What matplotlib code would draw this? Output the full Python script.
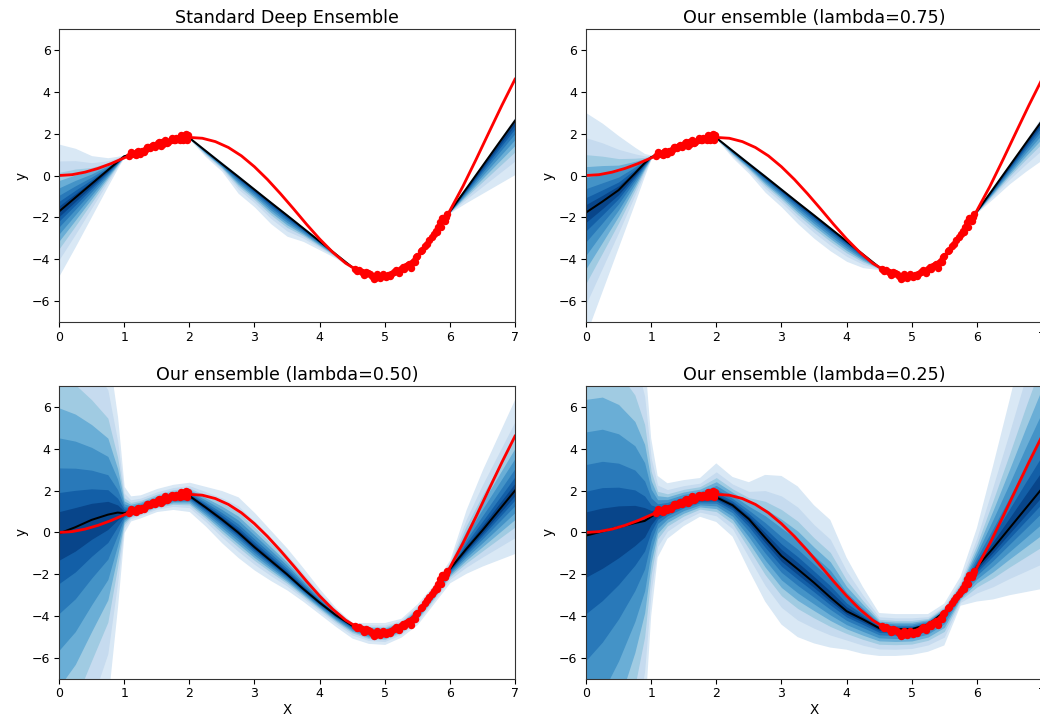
import matplotlib
matplotlib.use("Agg")
import matplotlib.pyplot as plt
import numpy as np

# shared x grid for the ensemble curves
x_grid = [0, 0.25, 0.5, 0.75, 0.9, 1.0, 1.1, 1.25, 1.5, 1.75, 2.0, 2.25, 2.5, 2.75, 3.0,
          3.25, 3.5, 3.75, 4.0, 4.25, 4.5, 4.75, 5.0, 5.25, 5.5, 5.75, 6.0, 6.25, 6.5, 6.75, 7.0]

# ground truth curve (red)
true_x = [0.0, 0.2, 0.4, 0.6, 0.8, 1.0, 1.2, 1.4, 1.6, 1.8, 2.0, 2.2, 2.4, 2.6, 2.8, 3.0, 3.2, 3.4,
          3.6, 3.8, 4.0, 4.2, 4.4, 4.6, 4.8, 5.0, 5.2, 5.4, 5.6, 5.8, 6.0, 6.2, 6.4, 6.6, 6.8, 7.0]
true_y = [0.0, 0.04, 0.16, 0.34, 0.57, 0.84, 1.12, 1.38, 1.60, 1.75, 1.82, 1.78, 1.62, 1.34, 0.94, 0.42,
          -0.19, -0.87, -1.59, -2.33, -3.03, -3.66, -4.19, -4.57, -4.78, -4.79, -4.59, -4.17, -3.54,
          -2.69, -1.68, -0.52, 0.75, 2.06, 3.36, 4.60]

# training points
train_x = [1.08, 1.12, 1.15, 1.20, 1.24, 1.28, 1.33, 1.37, 1.40, 1.44, 1.47, 1.52, 1.55, 1.58, 1.60, 1.63,
           1.68, 1.72, 1.76, 1.80, 1.83, 1.87, 1.90, 1.93, 1.96, 1.98,
           1.10, 1.18, 1.22, 1.30, 1.35, 1.42, 1.50, 1.54, 1.57, 1.62, 1.66, 1.74, 1.78, 1.85, 1.88,
           1.92, 1.95, 1.97,
           4.55, 4.58, 4.65, 4.70, 4.75, 4.80, 4.85, 4.90, 4.95, 5.00, 5.05, 5.10, 5.15, 5.20, 5.25, 5.28,
           5.32, 5.38, 5.42, 5.45, 5.48, 5.55, 5.62, 5.68, 5.72, 5.78, 5.82, 5.85, 5.88, 5.92, 5.95,
           4.60, 4.68, 4.72, 4.78, 4.83, 4.88, 4.93, 4.98, 5.02, 5.08, 5.18, 5.22, 5.30, 5.35, 5.40,
           5.47, 5.50, 5.58, 5.65, 5.75, 5.80, 5.86, 5.90, 5.94]
train_y = [0.95, 1.08, 1.02, 1.10, 1.05, 1.18, 1.25, 1.35, 1.30, 1.45, 1.38, 1.55, 1.48, 1.62, 1.52, 1.65,
           1.60, 1.72, 1.68, 1.80, 1.75, 1.85, 1.72, 1.92, 1.80, 1.95,
           1.12, 0.98, 1.15, 1.12, 1.38, 1.42, 1.45, 1.62, 1.42, 1.72, 1.55, 1.78, 1.70, 1.68, 1.95,
           1.75, 1.98, 1.70,
           -4.45, -4.55, -4.62, -4.72, -4.68, -4.82, -4.88, -4.78, -4.82, -4.80, -4.76, -4.72, -4.62, -4.55, -4.45, -4.38,
           -4.32, -4.25, -4.18, -4.10, -3.90, -3.62, -3.35, -3.10, -2.95, -2.65, -2.45, -2.20, -2.05, -2.15, -1.85,
           -4.50, -4.75, -4.60, -4.72, -4.95, -4.72, -4.88, -4.72, -4.86, -4.80, -4.52, -4.68, -4.48, -4.28, -4.40,
           -4.15, -3.85, -3.55, -3.25, -2.80, -2.70, -2.45, -2.02, -2.00]

titles = ["Standard Deep Ensemble", "Our ensemble (lambda=0.75)",
          "Our ensemble (lambda=0.50)", "Our ensemble (lambda=0.25)"]

# ensemble mean (black) and outermost band edges per panel
mean_1 = [-1.72, -1.06, -0.40, 0.26, 0.66, 0.92, 1.00, 1.15, 1.45, 1.68, 1.80, 1.18, 0.56, -0.05, -0.67,
          -1.29, -1.90, -2.52, -3.14, -3.76, -4.38, -4.72, -4.78, -4.50, -3.88, -2.90, -1.72, -0.64, 0.45, 1.54, 2.62]
upper_1 = [1.5, 1.3, 0.95, 0.85, 0.92, 0.98, 1.05, 1.2, 1.5, 1.72, 1.85, 1.25, 0.65, 0.03, -0.6,
           -1.22, -1.84, -2.46, -3.08, -3.72, -4.34, -4.70, -4.75, -4.47, -3.85, -2.87, -1.68, -0.55, 0.55, 1.68, 2.8]
lower_1 = [-4.8, -3.4, -1.95, -0.5, 0.35, 0.88, 0.96, 1.1, 1.4, 1.64, 1.74, 0.9, 0.2, -0.85, -1.5,
           -2.3, -2.9, -3.15, -3.55, -3.95, -4.45, -4.76, -4.82, -4.54, -3.92, -2.95, -1.78, -1.3, -0.85, -0.4, 0.05]

mean_2 = [-1.77, -1.25, -0.70, 0.10, 0.60, 0.88, 1.00, 1.15, 1.45, 1.68, 1.80, 1.18, 0.56, -0.05, -0.67,
          -1.29, -1.90, -2.52, -3.14, -3.76, -4.38, -4.72, -4.78, -4.50, -3.88, -2.90, -1.72, -0.64, 0.45, 1.54, 2.62]
upper_2 = [3.0, 2.5, 1.9, 1.35, 1.05, 0.98, 1.05, 1.2, 1.5, 1.72, 1.85, 1.25, 0.65, 0.03, -0.6,
           -1.22, -1.84, -2.46, -3.08, -3.72, -4.34, -4.70, -4.75, -4.47, -3.85, -2.87, -1.68, -0.55, 0.55, 1.68, 2.85]
lower_2 = [-7.6, -5.5, -3.4, -1.3, 0.0, 0.8, 0.96, 1.1, 1.4, 1.64, 1.74, 0.85, 0.1, -0.8, -1.5,
           -2.3, -3.0, -3.6, -4.1, -4.4, -4.5, -4.76, -4.82, -4.54, -3.92, -2.95, -1.78, -1.1, -0.4, 0.2, 0.75]

mean_3 = [-0.05, 0.25, 0.60, 0.85, 0.95, 0.92, 1.00, 1.15, 1.45, 1.68, 1.75, 1.20, 0.62, 0.00, -0.70,
          -1.35, -2.00, -2.70, -3.35, -3.95, -4.45, -4.75, -4.80, -4.50, -3.88, -2.90, -1.75, -0.80, 0.10, 1.05, 2.00]
upper_3 = [13, 12, 10.5, 8.8, 5.5, 2.2, 1.75, 1.8, 2.1, 2.3, 2.4, 2.2, 2.0, 1.7, 0.95,
           0.1, -0.75, -1.7, -2.7, -3.6, -4.3, -4.3, -4.3, -4.1, -3.4, -2.5, -1.3, 1.1, 3.0, 4.7, 6.4]
lower_3 = [-16, -14, -11, -8, -3.5, 0.0, 0.55, 0.7, 1.0, 1.1, 1.0, 0.3, -0.5, -1.2, -1.8,
           -2.3, -2.75, -3.3, -3.9, -4.5, -5.05, -5.3, -5.35, -5.0, -4.4, -3.4, -2.4, -1.95, -1.6, -1.3, -1.0]

mean_4 = [-0.15, 0.05, 0.25, 0.45, 0.55, 0.75, 0.95, 1.15, 1.45, 1.62, 1.68, 1.30, 0.64, -0.25, -1.12,
          -1.75, -2.40, -3.10, -3.76, -4.15, -4.57, -4.62, -4.62, -4.40, -3.80, -2.85, -1.65, -0.75, 0.20, 1.15, 2.10]
upper_4 = [14, 14, 13, 11, 8.5, 4.5, 2.7, 2.35, 2.5, 2.6, 3.3, 2.65, 2.4, 2.75, 2.7,
           2.2, 1.3, 0.6, -1.2, -2.6, -3.85, -3.9, -3.9, -3.9, -3.4, -2.1, 0.2, 3.2, 6.3, 9.5, 12.5]
lower_4 = [-25, -22, -18, -13, -9, -4.0, -1.2, -0.3, 0.3, 0.75, 0.5, -0.2, -1.8, -3.3, -4.4,
           -5.0, -5.3, -5.5, -5.6, -5.8, -5.9, -5.9, -5.85, -5.7, -5.4, -3.5, -3.3, -3.2, -3.0, -2.85, -2.7]

means = [mean_1, mean_2, mean_3, mean_4]
uppers = [upper_1, upper_2, upper_3, upper_4]
lowers = [lower_1, lower_2, lower_3, lower_4]

# relative spread of each nested band, outermost first
band_levels = [1.0, 0.75, 0.58, 0.46, 0.35, 0.24, 0.15, 0.08]
band_colors = plt.cm.Blues([0.15, 0.25, 0.37, 0.5, 0.62, 0.72, 0.82, 0.92])

plt.rcParams.update({'font.size': 12.5, 'axes.titlesize': 17.5, 'axes.labelsize': 13.5,
                     'axes.linewidth': 1.1, 'xtick.major.size': 5, 'ytick.major.size': 5,
                     'xtick.major.width': 1.1, 'ytick.major.width': 1.1,
                     'axes.edgecolor': '#333333'})

fig = plt.figure(figsize=(1040 / 72, 723 / 72), dpi=72)
ax_pos = [[59 / 1040, 0.5546, 456 / 1040, 0.4053],
          [586 / 1040, 0.5546, 456 / 1040, 0.4053],
          [59 / 1040, 0.0609, 456 / 1040, 0.4053],
          [586 / 1040, 0.0609, 456 / 1040, 0.4053]]

x = np.array(x_grid)
for i in range(4):
    ax = fig.add_axes(ax_pos[i])
    m = np.array(means[i])
    up = np.array(uppers[i])
    lo = np.array(lowers[i])
    for lev, col in zip(band_levels, band_colors):
        ax.fill_between(x, m + lev * (up - m), m - lev * (m - lo), color=col, lw=0)
    ax.plot(x, m, color='black', lw=2)
    ax.plot(true_x, true_y, color='red', lw=2.8)
    ax.scatter(train_x, train_y, color='red', s=55, lw=0, zorder=5)
    ax.set_xlim(0, 7)
    ax.set_ylim(-7, 7)
    ax.set_title(titles[i], pad=6)
    ax.set_ylabel('y')
    if i >= 2:
        ax.set_xlabel('X', labelpad=3)

fig.savefig("out.png", dpi=72)
